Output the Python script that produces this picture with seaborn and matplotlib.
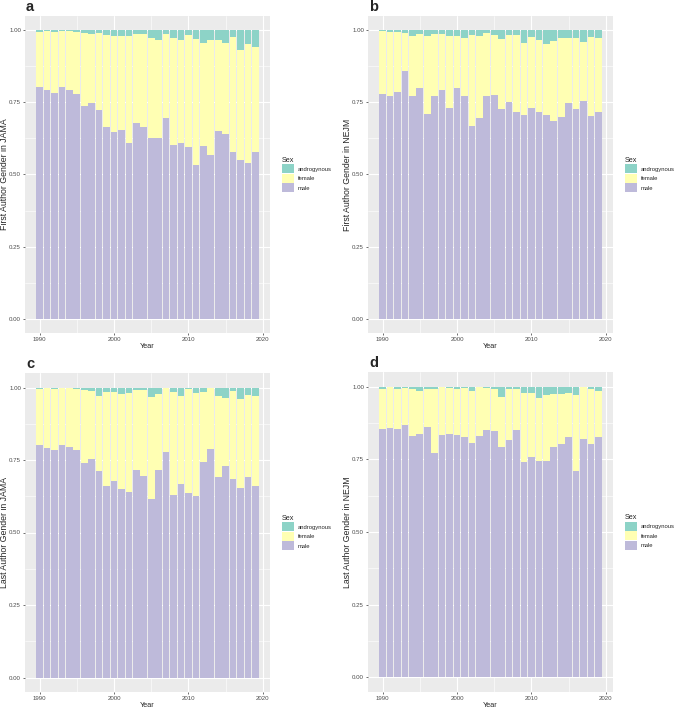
import numpy as np
import pandas as pd
import matplotlib.pyplot as plt
import seaborn as sns
from matplotlib.patches import Patch


years = list(range(1990, 2020))
sexes = ["androgynous", "female", "male"]
colors = ["#8DD3C7", "#FFFFB3", "#BEBADA"]

# share of male authors per year
jama_first_male = [0.803, 0.792, 0.783, 0.803, 0.794, 0.781, 0.739, 0.748, 0.723, 0.665,
                   0.649, 0.654, 0.609, 0.679, 0.664, 0.625, 0.625, 0.695, 0.602, 0.611,
                   0.596, 0.534, 0.598, 0.569, 0.651, 0.642, 0.577, 0.550, 0.539, 0.579]
nejm_first_male = [0.779, 0.771, 0.786, 0.859, 0.774, 0.801, 0.711, 0.774, 0.792, 0.731,
                   0.800, 0.771, 0.667, 0.697, 0.771, 0.776, 0.729, 0.751, 0.716, 0.708,
                   0.732, 0.716, 0.706, 0.687, 0.699, 0.747, 0.729, 0.754, 0.704, 0.718]
jama_last_male = [0.803, 0.791, 0.783, 0.802, 0.794, 0.783, 0.741, 0.752, 0.711, 0.659,
                  0.679, 0.650, 0.639, 0.714, 0.695, 0.615, 0.714, 0.776, 0.628, 0.666,
                  0.636, 0.627, 0.743, 0.789, 0.692, 0.728, 0.684, 0.652, 0.691, 0.659]
nejm_last_male = [0.855, 0.858, 0.855, 0.869, 0.830, 0.836, 0.861, 0.773, 0.834, 0.837,
                  0.834, 0.828, 0.805, 0.829, 0.852, 0.846, 0.793, 0.816, 0.850, 0.741,
                  0.758, 0.745, 0.745, 0.793, 0.803, 0.827, 0.711, 0.820, 0.803, 0.827]

# share of androgynous names per year
jama_first_andro = [0.005, 0.002, 0.007, 0.002, 0.003, 0.005, 0.008, 0.013, 0.009, 0.016,
                    0.020, 0.019, 0.019, 0.013, 0.012, 0.025, 0.032, 0.013, 0.025, 0.033,
                    0.016, 0.031, 0.044, 0.035, 0.032, 0.044, 0.023, 0.067, 0.046, 0.059]
nejm_first_andro = [0.001, 0.005, 0.005, 0.009, 0.020, 0.014, 0.021, 0.014, 0.014, 0.021,
                    0.021, 0.027, 0.017, 0.021, 0.009, 0.016, 0.030, 0.017, 0.017, 0.045,
                    0.023, 0.033, 0.048, 0.038, 0.027, 0.027, 0.027, 0.040, 0.023, 0.028]
jama_last_andro = [0.005, 0.002, 0.006, 0.003, 0.003, 0.005, 0.007, 0.012, 0.029, 0.016,
                   0.016, 0.024, 0.020, 0.008, 0.008, 0.032, 0.024, 0.000, 0.014, 0.029,
                   0.005, 0.020, 0.016, 0.003, 0.031, 0.037, 0.012, 0.038, 0.025, 0.028]
nejm_last_andro = [0.008, 0.003, 0.008, 0.005, 0.010, 0.015, 0.010, 0.010, 0.000, 0.006,
                   0.010, 0.005, 0.017, 0.000, 0.006, 0.010, 0.036, 0.010, 0.010, 0.022,
                   0.023, 0.039, 0.029, 0.025, 0.025, 0.022, 0.028, 0.000, 0.010, 0.016]

panels = [
    ("a", "First Author Gender in JAMA", jama_first_male, jama_first_andro),
    ("b", "First Author Gender in NEJM", nejm_first_male, nejm_first_andro),
    ("c", "Last Author Gender in JAMA", jama_last_male, jama_last_andro),
    ("d", "Last Author Gender in NEJM", nejm_last_male, nejm_last_andro),
]


def make_df(male, andro):
    male = np.array(male)
    andro = np.array(andro)
    female = 1 - male - andro
    rows = []
    for i, y in enumerate(years):
        rows.append((y, "androgynous", andro[i]))
        rows.append((y, "female", female[i]))
        rows.append((y, "male", male[i]))
    return pd.DataFrame(rows, columns=["Year", "Sex", "prop"])


sns.set_theme(style="darkgrid")
plt.rcParams["font.family"] = ["Liberation Sans", "DejaVu Sans"]
plt.rcParams["axes.facecolor"] = "#EBEBEB"
plt.rcParams["grid.color"] = "white"

fig = plt.figure(figsize=(6.76, 7.09), dpi=100)
W, H = 676, 709
boxes = [(25, 16, 270, 333), (368, 16, 613, 333),
         (25, 373, 270, 692), (368, 372, 613, 692)]

for (letter, ylab, male, andro), (x0, y0, x1, y1) in zip(panels, boxes):
    ax = fig.add_axes([x0 / W, 1 - y1 / H, (x1 - x0) / W, (y1 - y0) / H])
    df = make_df(male, andro)
    sns.histplot(data=df, x="Year", weights="prop", hue="Sex", hue_order=sexes,
                 palette=colors, multiple="stack", discrete=True, shrink=0.9,
                 linewidth=0, alpha=1, legend=False, ax=ax)
    ax.set_xlim(1988.05, 2020.95)
    ax.set_ylim(-0.05, 1.05)
    ax.set_xticks([1990, 2000, 2010, 2020])
    ax.set_xticks([1995, 2005, 2015], minor=True)
    ax.set_yticks([0, 0.25, 0.5, 0.75, 1.0])
    ax.set_yticklabels(["0.00", "0.25", "0.50", "0.75", "1.00"])
    ax.set_yticks([0.125, 0.375, 0.625, 0.875], minor=True)
    ax.grid(which="major", color="white", linewidth=0.8)
    ax.grid(which="minor", color="white", linewidth=0.4)
    ax.set_axisbelow(True)
    for s in ax.spines.values():
        s.set_visible(False)
    ax.tick_params(axis="both", which="major", length=1.6, width=0.5, color="#333333",
                   labelsize=4.4, labelcolor="#4D4D4D", pad=1.2, bottom=True, left=True)
    ax.tick_params(which="minor", length=0)
    ax.set_xlabel("Year", fontsize=5.2, labelpad=1)
    ax.set_ylabel(ylab, fontsize=6.3)
    ax.yaxis.set_label_coords(-0.064, 0.5)
    fig.text((x0 + 1) / W, 1 - (y0 - 5) / H, letter, fontsize=10.5,
             fontweight="bold", ha="left", va="baseline")

    handles = [Patch(facecolor=c, edgecolor="none") for c in colors]
    ax.legend(handles, sexes, title="Sex", loc="center left",
              bbox_to_anchor=(1.04, 0.5), frameon=False, fontsize=4.2,
              title_fontsize=5.2, handlelength=2.0, handleheight=2.0,
              labelspacing=0.1, handletextpad=0.7, borderaxespad=0)
    ax.get_legend()._legend_box.align = "left"

fig.savefig("out.png", dpi=100)
